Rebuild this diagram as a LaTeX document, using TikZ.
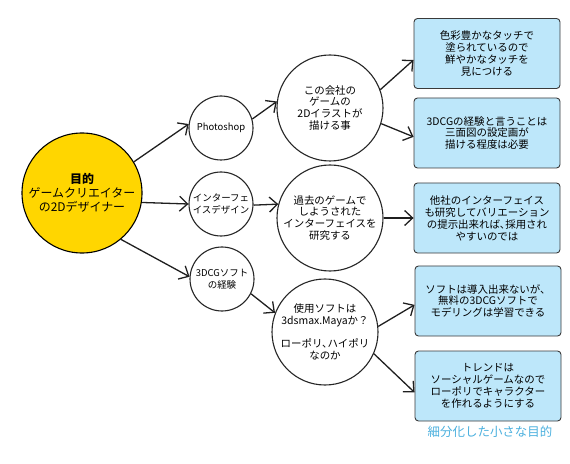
\documentclass[tikz,border=0pt]{standalone}
\usepackage{fontspec}
\setmainfont{Noto Sans CJK JP}
\usetikzlibrary{arrows.meta}
\definecolor{goal}{HTML}{FFD600}
\definecolor{boxfill}{HTML}{BDE7FA}
\definecolor{boxline}{HTML}{3A3A3A}
\definecolor{labelblue}{HTML}{4BB0DE}
\begin{document}
\begin{tikzpicture}[x=1bp,y=-1bp,
  goalnode/.style={circle,draw=black,line width=1.1bp,fill=goal,minimum size=120bp,inner sep=0pt,align=center,font=\fontsize{12}{14}\selectfont},
  smallc/.style={circle,draw=black!85,line width=1.1bp,fill=white,minimum size=64bp,inner sep=0pt,align=center,font=\fontsize{9.5}{11.5}\selectfont},
  bigc/.style={circle,draw=black!85,line width=1.1bp,fill=white,minimum size=106bp,inner sep=0pt,align=center,font=\fontsize{10.5}{12}\selectfont},
  subgoal/.style={rectangle,rounded corners=3.5bp,draw=boxline,line width=0.9bp,fill=boxfill,minimum width=146bp,minimum height=70bp,inner sep=0pt,align=center,font=\fontsize{10.5}{12}\selectfont},
  conn/.style={line width=1.3bp,draw=black!88,-{Straight Barb[length=8bp,width=15bp,line width=1.3bp]}}
]
\useasboundingbox (0,0) rectangle (570,464);
\node[goalnode] (g) at (82,193) {\textbf{目的}\\ゲームクリエイター\\の2Dデザイナー};
\node[smallc] (ps) at (221,128) {Photoshop};
\node[smallc] (ifd) at (221,204) {インターフェ\\イスデザイン};
\node[smallc] (cg) at (222,279) {3DCGソフト\\の経験};
\node[bigc] (c1) at (330,108) {この会社の\\ゲームの\\2Dイラストが\\描ける事};
\node[bigc] (c2) at (330,218) {過去のゲームで\\しようされた\\インターフェイスを\\研究する};
\node[bigc] (c3) at (325,332) {使用ソフトは\\3dsmax.Mayaか？\\[11bp]ローポリ､ハイポリ\\なのか};
\node[subgoal] (b1) at (487,53.5) {色彩豊かなタッチで\\塗られているので\\鮮やかなタッチを\\見につける};
\node[subgoal] (b2) at (487,133) {3DCGの経験と言うことは\\三面図の設定画が\\描ける程度は必要};
\node[subgoal] (b3) at (487,218) {他社のインターフェイス\\も研究してバリエーション\\の提示出来れば､採用され\\やすいのでは};
\node[subgoal] (b4) at (488,301) {ソフトは導入出来ないが、\\無料の3DCGソフトで\\モデリングは学習できる};
\node[subgoal] (b5) at (488,386) {トレンドは\\ソーシャルゲームなので\\ローポリでキャラクター\\を作れるようにする};
\node[text=labelblue,font=\fontsize{12.5}{14}\selectfont] (lbl) at (490,432) {細分化した小さな目的};
\draw[conn] (g.31) -- (ps.173);
\draw[conn] (g.-9) -- (ifd.180);
\draw[conn] (g.-50) -- (cg.176);
\draw[conn] (ps.16) -- (c1.173);
\draw[conn] (ifd.-2) -- (c2.165);
\draw[conn] (cg.-27) -- (c3.159);
\draw[conn] (c1.20) -- (b1.185);
\draw[conn] (c1.-17) -- (b2.183);
\draw[conn] (c2.0) -- (b3.180);
\draw[conn] (c3.6) -- (b4.183);
\draw[conn] (c3.-24) -- (b5.185);
\end{tikzpicture}
\end{document}
